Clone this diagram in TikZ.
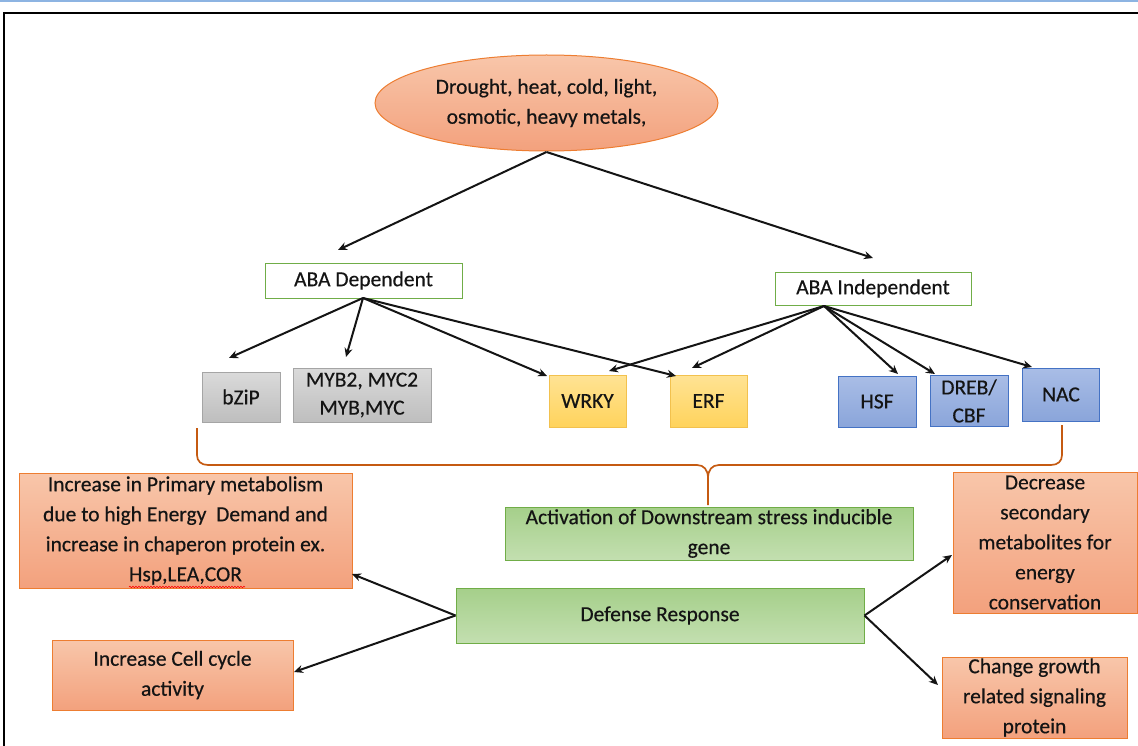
\documentclass[tikz,border=0pt]{standalone}
\usepackage{fontspec}
\setmainfont{Carlito}[FakeBold=0.4]
\newfontfamily\lblfont{Carlito}[FakeBold=0.4]
\usetikzlibrary{shapes.geometric,arrows.meta,decorations.pathmorphing}
\definecolor{txt}{HTML}{141414}
\definecolor{orBd}{HTML}{ED7D31}
\definecolor{orTop}{HTML}{F8C6AA}
\definecolor{orBot}{HTML}{F3A17D}
\definecolor{grBd}{HTML}{70AD47}
\definecolor{grTop}{HTML}{C3DFB0}
\definecolor{grBot}{HTML}{A5CF8A}
\definecolor{gyBd}{HTML}{A5A5A5}
\definecolor{gyTop}{HTML}{DADADA}
\definecolor{gyBot}{HTML}{BEBEBE}
\definecolor{ywBd}{HTML}{F2C14E}
\definecolor{ywTop}{HTML}{FFE394}
\definecolor{ywBot}{HTML}{FFD35C}
\definecolor{blBd}{HTML}{4472C4}
\definecolor{blTop}{HTML}{A9BDE6}
\definecolor{blBot}{HTML}{8AA5DA}
\definecolor{brk}{HTML}{C55A11}
\definecolor{topline}{HTML}{8DB4E2}
\begin{document}
\begin{tikzpicture}[x=1pt,y=-1pt,
  lbl/.style={inner sep=0pt, align=center, text=txt, font=\lblfont\addfontfeature{FakeBold=0.4}\fontsize{21.5}{30}\selectfont},
  box/.style={lbl, draw, rectangle, line width=1pt},
  orangebox/.style={box, draw=orBd, top color=orTop, bottom color=orBot},
  greenbox/.style={box, draw=grBd, top color=grBot, bottom color=grTop},
  whitebox/.style={box, draw=grBd, fill=white},
  graybox/.style={box, draw=gyBd, top color=gyTop, bottom color=gyBot},
  yellowbox/.style={box, draw=ywBd, top color=ywTop, bottom color=ywBot},
  bluebox/.style={box, draw=blBd, top color=blTop, bottom color=blBot},
  arr/.style={-{Stealth[length=9pt,width=8pt]}, line width=2pt, draw=black!92},
  bracket/.style={draw=brk, line width=1.7pt}
]
\useasboundingbox (0,0) rectangle (1138,746);
% page decoration
\draw[topline, line width=2pt] (0,1) -- (1138,1);
\draw[black, line width=1.5pt] (4,746) -- (4,13) -- (1138,13);

% nodes
\node[lbl, ellipse, draw=orBd, line width=1pt, top color=orTop, bottom color=orBot,
      minimum width=343, minimum height=96] (src) at (546.5,103)
      {Drought, heat, cold, light,\\ osmotic, heavy metals,};
\node[whitebox, minimum width=197, minimum height=35] (dep) at (363.5,280.5) {ABA Dependent};
\node[whitebox, minimum width=196, minimum height=33] (ind) at (873,288.5) {ABA Independent};

\node[graybox, minimum width=78, minimum height=50] (bzip) at (241,397) {bZiP};
\node[graybox, minimum width=138, minimum height=54] (myb) at (362,395) {MYB2, MYC2\\[-2pt] MYB,MYC};
\node[yellowbox, minimum width=77, minimum height=52] (wrky) at (587.5,401) {WRKY};
\node[yellowbox, minimum width=77, minimum height=52] (erf) at (708.5,401) {ERF};
\node[bluebox, minimum width=78, minimum height=51] (hsf) at (877,401.5) {HSF};
\node[bluebox, minimum width=78, minimum height=51] (dreb) at (969,401) {DREB/\\[-2pt] CBF};
\node[bluebox, minimum width=77, minimum height=53] (nac) at (1061,394.5) {NAC};

\node[orangebox, minimum width=333, minimum height=115] (prim) at (185.5,530.5)
  {Increase in Primary metabolism\\ due to high Energy~ Demand and\\ increase in chaperon protein ex.\\ Hsp,LEA,COR};
\node[orangebox, minimum width=241, minimum height=70] (cell) at (172.5,675)
  {Increase Cell cycle\\ activity};
\node[greenbox, minimum width=408, minimum height=53] (act) at (709,533.5)
  {Activation of Downstream stress inducible\\ gene};
\node[greenbox, minimum width=408, minimum height=55] (def) at (660,615.5) {Defense Response};
\node[orangebox, minimum width=184, minimum height=141] (dec) at (1045,542.5)
  {Decrease\\ secondary\\ metabolites for\\ energy\\ conservation};
\node[orangebox, minimum width=185, minimum height=81] (chg) at (1034.5,697.5)
  {Change growth\\ related signaling\\ protein};

% spelling squiggle
\draw[red, line width=0.6pt, decorate, decoration={snake, amplitude=0.8pt, segment length=3pt}]
  (129,587) -- (245,587);

% arrow end points
\coordinate (sO) at (546.5,152);
\coordinate (tDep) at (338,250);
\coordinate (tInd) at (873,258);
\coordinate (dO) at (363,298);
\coordinate (tBz) at (229,358);
\coordinate (tMy) at (346,357);
\coordinate (tWd) at (547,376);
\coordinate (tEd) at (676,376);
\coordinate (iO) at (824,306);
\coordinate (tWi) at (609,371);
\coordinate (tEi) at (692,368);
\coordinate (tHs) at (898,374);
\coordinate (tDr) at (935,374);
\coordinate (tNa) at (1032,367);
\coordinate (tPr) at (352,574);
\coordinate (tCe) at (294,672);
\coordinate (tDe) at (952,555);
\coordinate (tCh) at (938,685);

\draw[arr] (sO) -- (tDep);
\draw[arr] (sO) -- (tInd);
\draw[arr] (dO) -- (tBz);
\draw[arr] (dO) -- (tMy);
\draw[arr] (dO) -- (tWd);
\draw[arr] (dO) -- (tEd);
\draw[arr] (iO) -- (tWi);
\draw[arr] (iO) -- (tEi);
\draw[arr] (iO) -- (tHs);
\draw[arr] (iO) -- (tDr);
\draw[arr] (iO) -- (tNa);
\draw[arr] (def.west) -- (tPr);
\draw[arr] (def.west) -- (tCe);
\draw[arr] (def.east) -- (tDe);
\draw[arr] (def.east) -- (tCh);

% bracket
\coordinate (bl) at (197,428);
\coordinate (br) at (1062,425);
\coordinate (bc) at (708,505);
\draw[bracket] (bl) -- (197,455) .. controls (197,461) and (201,465) .. (208,465)
  -- (697,465) .. controls (704,465) and (708,470) .. (708,478) -- (bc);
\draw[bracket] (708,478) .. controls (708,470) and (712,465) .. (719,465)
  -- (1051,465) .. controls (1058,465) and (1062,461) .. (1062,455) -- (br);
\end{tikzpicture}
\end{document}
